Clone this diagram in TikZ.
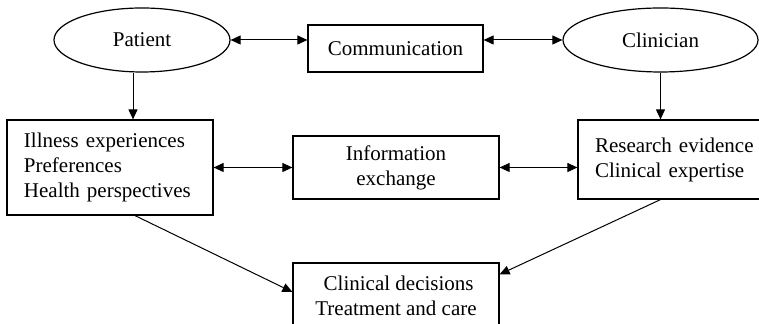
\documentclass[tikz,border=0pt]{standalone}
\usepackage{fontspec}
\setmainfont{Liberation Serif}
\usetikzlibrary{shapes.geometric,arrows.meta}

\tikzset{
  base/.style={draw, line width=0.6pt, font=\fontsize{10.5}{12.5}\selectfont, inner sep=0pt},
  actor/.style={base, ellipse, minimum height=32pt},
  panel/.style={base, rectangle},
  link/.style={line width=0.5pt, -{Triangle[length=5pt,width=4.5pt]}},
  twoway/.style={link, {Triangle[length=5pt,width=4.5pt]}-{Triangle[length=5pt,width=4.5pt]}}
}

\begin{document}
\begin{tikzpicture}[x=0.5pt, y=-0.5pt]
    \clip (0,0) rectangle (759,324);

    % top row
    \node[actor, minimum width=88pt] (patient) at (142,40) {Patient};
    \node[panel, minimum width=87.5pt, minimum height=23.5pt] (comm) at (395.5,48.5) {Communication};
    \node[actor, minimum width=97.5pt] (clinician) at (660.5,40) {Clinician};

    % middle row
    \node[panel, text width=86pt, inner xsep=8.5pt, align=left, minimum height=47.5pt] (illness) at (110,167.5)
        {Illness experiences\\Preferences\\Health perspectives};
    \node[panel, minimum width=103pt, minimum height=31.5pt, align=center] (info) at (396,167.5)
        {Information\\exchange};
    \node[panel, text width=81.5pt, inner xsep=8.5pt, align=left, minimum height=39.5pt] (research) at (676.5,159.5)
        {Research evidence\\Clinical expertise\\[5pt]};

    % bottom
    \node[panel, minimum width=103pt, minimum height=33pt, align=center] (decision) at (396,296)
        {\ Clinical decisions\\Treatment and care};

    \coordinate (pl) at ([xshift=-4.5pt]patient.south);

    \draw[twoway] (patient.east) -- (patient.east -| comm.west);
    \draw[twoway] (clinician.west -| comm.east) -- (clinician.west);
    \draw[link] (pl) -- (pl |- illness.north);
    \draw[link] (clinician.south) -- (clinician.south |- research.north);
    \draw[twoway] (illness.east) -- (info.west);
    \draw[twoway] (info.east) -- (info.east -| research.west);
    \draw[link] ([xshift=1pt]pl |- illness.south) -- ([yshift=2pt]decision.west);
    \draw[link] (clinician.south |- research.south) -- ([yshift=-6pt]decision.north east);
\end{tikzpicture}
\end{document}
